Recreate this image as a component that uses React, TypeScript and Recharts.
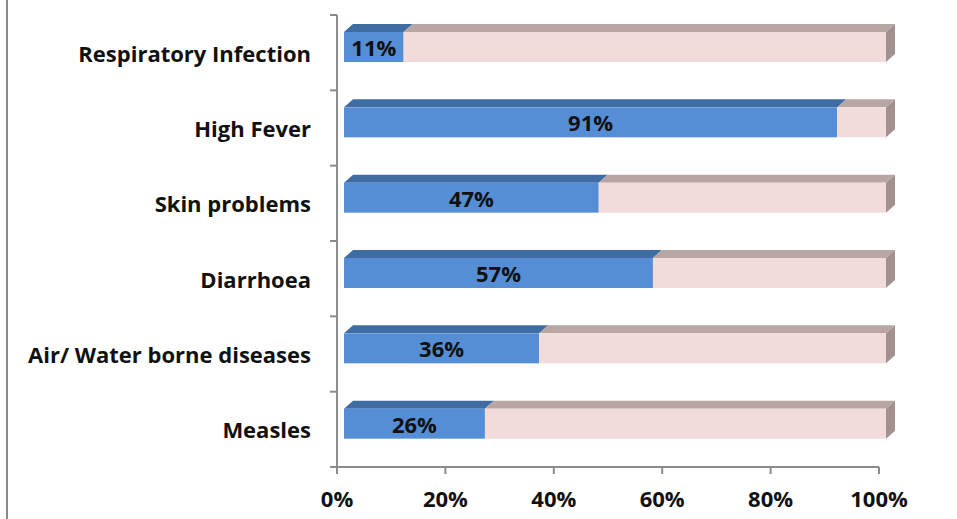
import React from 'react';
import { BarChart, Bar, XAxis, YAxis, LabelList } from 'recharts';

const categories = ['Respiratory Infection', 'High Fever', 'Skin problems', 'Diarrhoea', 'Air/ Water borne diseases', 'Measles'];
const affected = [11, 91, 47, 57, 36, 26];
const remaining = [89, 9, 53, 43, 64, 74];
const xTicks = [0, 20, 40, 60, 80, 100];

const data = categories.map((name, i) => ({ name, value: affected[i], rest: remaining[i] }));

const W = 957;
const H = 519;
const M = { top: 15, right: 78, bottom: 0, left: 0 };
const Y_AXIS_W = 337;
const X_AXIS_H = 52;
const PLOT_H = H - M.top - M.bottom - X_AXIS_H;
const BAND = PLOT_H / categories.length;

const FRONT_DX = 7;
const SHIFT_Y = -6;
const DEPTH_X = 9;
const DEPTH_Y = 8;
const FONT = '"Open Sans", Lato, sans-serif';
const FS = 22;
const AXIS_COLOR = '#8c8c8c';

const makeShape = (front: string, top: string, side?: string) => (props: any) => {
  const { x, y, width, height } = props;
  if (width == null || height == null) return null;
  const fx = x + FRONT_DX;
  const fy = y + SHIFT_Y;
  const topPts = `${fx},${fy} ${fx + DEPTH_X},${fy - DEPTH_Y} ${fx + width + DEPTH_X},${fy - DEPTH_Y} ${fx + width},${fy}`;
  return (
    <g>
      <polygon points={topPts} fill={top} />
      <rect x={fx} y={fy} width={width} height={height} fill={front} />
      {side ? (
        <polygon
          points={`${fx + width},${fy} ${fx + width + DEPTH_X},${fy - DEPTH_Y} ${fx + width + DEPTH_X},${fy + height - DEPTH_Y} ${fx + width},${fy + height}`}
          fill={side}
        />
      ) : null}
    </g>
  );
};

const BlueShape = makeShape('#558ED5', '#3F6CA3');
const PinkShape = makeShape('#F2DCDB', '#B8A6A5', '#A29190');

const renderLabel = (props: any) => {
  const vb = props.viewBox && props.viewBox.width != null ? props.viewBox : props;
  const cx = vb.x + FRONT_DX + vb.width / 2;
  const cy = vb.y + SHIFT_Y + vb.height / 2;
  return (
    <text x={cx} y={cy} textAnchor="middle" dominantBaseline="central" fontFamily={FONT} fontWeight={700} fontSize={FS} fill="#111">
      {`${props.value}%`}
    </text>
  );
};

const YTick = (props: any) => {
  const { x, y, payload, index } = props;
  const axisX = Y_AXIS_W;
  return (
    <g>
      <line x1={axisX - 7} x2={axisX} y1={y - BAND / 2} y2={y - BAND / 2} stroke={AXIS_COLOR} strokeWidth={2} />
      {index === categories.length - 1 ? (
        <line x1={axisX - 7} x2={axisX} y1={y + BAND / 2} y2={y + BAND / 2} stroke={AXIS_COLOR} strokeWidth={2} />
      ) : null}
      <text x={x - 18} y={y} textAnchor="end" dominantBaseline="central" fontFamily={FONT} fontWeight={700} fontSize={FS} fill="#111">
        {payload.value}
      </text>
    </g>
  );
};

const XTick = (props: any) => {
  const { x, y, payload } = props;
  return (
    <text x={x} y={y + 22} textAnchor="middle" dominantBaseline="central" fontFamily={FONT} fontWeight={700} fontSize={FS} fill="#111">
      {`${payload.value}%`}
    </text>
  );
};

export default function App() {
  return (
    <div style={{ position: 'absolute', left: 0, top: 0, width: W, height: H, background: '#fff' }}>
      <div style={{ position: 'absolute', left: 6, top: 0, width: 2, height: H, background: '#8a8a8a' }} />
      <BarChart width={W} height={H} data={data} layout="vertical" margin={M} barSize={30}>
        <XAxis
          type="number"
          domain={[0, 100]}
          ticks={xTicks}
          interval={0}
          height={X_AXIS_H}
          tick={<XTick />}
          tickSize={7}
          axisLine={{ stroke: AXIS_COLOR, strokeWidth: 2 }}
          tickLine={{ stroke: AXIS_COLOR, strokeWidth: 2 }}
        />
        <YAxis
          type="category"
          dataKey="name"
          width={Y_AXIS_W}
          interval={0}
          tick={<YTick />}
          tickLine={false}
          axisLine={{ stroke: AXIS_COLOR, strokeWidth: 2 }}
        />
        <Bar dataKey="value" stackId="a" shape={BlueShape} isAnimationActive={false}>
          <LabelList dataKey="value" content={renderLabel} />
        </Bar>
        <Bar dataKey="rest" stackId="a" shape={PinkShape} isAnimationActive={false} />
      </BarChart>
    </div>
  );
}
